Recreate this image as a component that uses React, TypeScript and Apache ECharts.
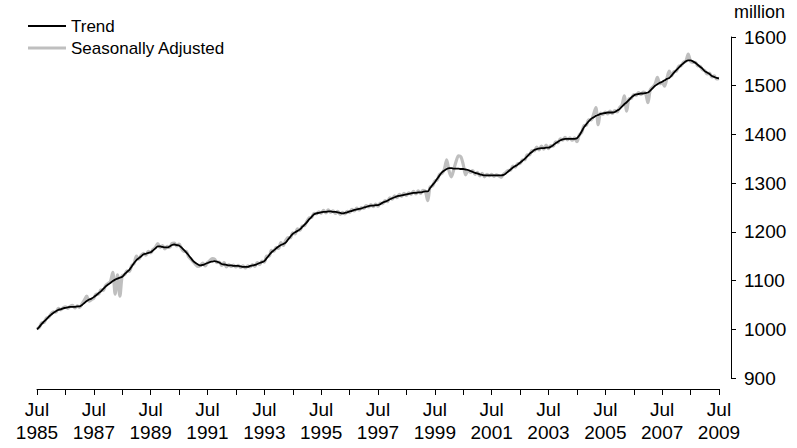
import React, { useEffect, useRef } from "react";
import * as echarts from "echarts";

// Months since Jul 1985 (index), monthly values in millions
const trend: number[] = [
  1000, 1005, 1011, 1016, 1021, 1026, 1030, 1034, 1037, 1040, 1041, 1043,
  1044, 1045, 1046, 1046, 1046, 1047, 1047, 1050, 1054, 1058, 1061, 1063,
  1066, 1070, 1074, 1078, 1083, 1088, 1092, 1095, 1099, 1102, 1104, 1106,
  1108, 1113, 1118, 1122, 1129, 1136, 1142, 1146, 1150, 1154, 1155, 1157,
  1158, 1162, 1166, 1170, 1170, 1169, 1168, 1168, 1170, 1173, 1174, 1173,
  1172, 1168, 1163, 1158, 1152, 1146, 1140, 1136, 1133, 1131, 1132, 1134,
  1136, 1138, 1139, 1140, 1139, 1137, 1134, 1133, 1132, 1131, 1131, 1130,
  1130, 1130, 1129, 1128, 1128, 1128, 1130, 1131, 1132, 1134, 1136, 1138,
  1140, 1146, 1152, 1158, 1162, 1166, 1170, 1173, 1175, 1178, 1184, 1190,
  1196, 1199, 1202, 1205, 1210, 1215, 1220, 1226, 1231, 1236, 1238, 1239,
  1240, 1241, 1241, 1242, 1242, 1241, 1241, 1240, 1239, 1238, 1239, 1240,
  1242, 1243, 1245, 1246, 1247, 1248, 1250, 1251, 1253, 1254, 1254, 1255,
  1255, 1257, 1260, 1262, 1264, 1267, 1269, 1271, 1273, 1274, 1275, 1276,
  1277, 1278, 1279, 1280, 1280, 1281, 1281, 1282, 1283, 1283, 1290, 1296,
  1302, 1309, 1316, 1322, 1326, 1329, 1331, 1331, 1330, 1330, 1330, 1329,
  1329, 1328, 1327, 1325, 1323, 1321, 1320, 1318, 1317, 1316, 1316, 1316,
  1316, 1316, 1316, 1316, 1316, 1317, 1320, 1324, 1328, 1332, 1335, 1338,
  1342, 1346, 1350, 1355, 1360, 1364, 1368, 1370, 1371, 1372, 1372, 1373,
  1373, 1375, 1378, 1382, 1385, 1388, 1390, 1391, 1391, 1391, 1391, 1391,
  1392, 1398, 1406, 1415, 1421, 1427, 1432, 1435, 1438, 1440, 1442, 1443,
  1444, 1445, 1445, 1445, 1446, 1449, 1452, 1457, 1462, 1466, 1471, 1476,
  1480, 1482, 1483, 1484, 1484, 1485, 1486, 1490, 1495, 1500, 1503, 1506,
  1508, 1511, 1514, 1516, 1521, 1527, 1532, 1537, 1542, 1546, 1550, 1552,
  1552, 1550, 1547, 1543, 1539, 1535, 1530, 1527, 1524, 1520, 1518, 1516,
  1515,
];

const seasonallyAdjusted: number[] = [
  1001, 1004, 1013, 1014, 1023, 1025, 1032, 1036, 1035, 1043, 1040, 1044,
  1046, 1043, 1047, 1049, 1044, 1048, 1045, 1052, 1060, 1068, 1058, 1061,
  1064, 1072, 1072, 1081, 1080, 1090, 1094, 1098, 1117, 1072, 1112, 1068,
  1110, 1112, 1120, 1119, 1131, 1135, 1150, 1144, 1152, 1156, 1152, 1160,
  1157, 1164, 1168, 1176, 1168, 1172, 1165, 1170, 1168, 1176, 1177, 1171,
  1175, 1166, 1160, 1160, 1149, 1144, 1138, 1133, 1129, 1131, 1136, 1130,
  1137, 1141, 1145, 1144, 1137, 1138, 1131, 1137, 1128, 1133, 1129, 1132,
  1128, 1131, 1127, 1130, 1126, 1130, 1128, 1133, 1129, 1137, 1133, 1140,
  1138, 1150, 1150, 1162, 1160, 1168, 1166, 1178, 1172, 1182, 1188, 1188,
  1198, 1196, 1206, 1203, 1212, 1213, 1222, 1229, 1230, 1238, 1237, 1241,
  1238, 1244, 1239, 1245, 1240, 1243, 1238, 1242, 1236, 1240, 1237, 1242,
  1240, 1246, 1243, 1249, 1245, 1250, 1248, 1254, 1251, 1256, 1252, 1257,
  1253, 1259, 1258, 1264, 1262, 1270, 1267, 1274, 1270, 1277, 1273, 1279,
  1275, 1280, 1277, 1283, 1278, 1284, 1279, 1285, 1283, 1264, 1292, 1294,
  1304, 1307, 1318, 1320, 1328, 1348, 1325, 1313, 1328, 1345, 1356, 1354,
  1338, 1317, 1325, 1322, 1326, 1318, 1322, 1315, 1320, 1313, 1318, 1315,
  1318, 1314, 1317, 1315, 1312, 1318, 1322, 1326, 1327, 1335, 1333, 1340,
  1340, 1348, 1348, 1358, 1358, 1367, 1366, 1374, 1368, 1376, 1370, 1378,
  1371, 1377, 1376, 1385, 1383, 1391, 1388, 1394, 1389, 1393, 1388, 1393,
  1385, 1399, 1404, 1418, 1419, 1430, 1430, 1441, 1455, 1420, 1444, 1441,
  1446, 1442, 1448, 1443, 1449, 1446, 1455, 1460, 1479, 1448, 1473, 1474,
  1482, 1480, 1486, 1482, 1487, 1484, 1465, 1492, 1497, 1503, 1517, 1504,
  1506, 1499, 1515, 1530, 1520, 1529, 1530, 1540, 1541, 1548, 1550, 1565,
  1550, 1548, 1548, 1541, 1540, 1533, 1531, 1524, 1526, 1518, 1520, 1514,
  1515,
];

const startYear = 1985;
const seriesNames = ["Trend", "Seasonally Adjusted"];
const yTicks = { min: 900, max: 1600, step: 100 };
const unitLabel = "million";

const FONT = "'Liberation Sans', Arial, sans-serif";
const TREND_COLOR = "#000000";
const SA_COLOR = "#bfbfbf";
const TREND_WIDTH = 1.8;
const SA_WIDTH = 3.2;

export default function App() {
  const ref = useRef<HTMLDivElement>(null);

  useEffect(() => {
    document.body.style.margin = "0";
    if (!ref.current) return;
    const chart = echarts.init(ref.current, undefined, { renderer: "svg" });
    const lastMonth = trend.length - 1;
    const legendRows = [
      { name: seriesNames[0], color: TREND_COLOR, width: TREND_WIDTH, y: 26 },
      { name: seriesNames[1], color: SA_COLOR, width: SA_WIDTH, y: 48 },
    ];
    const legendGraphics: any[] = [];
    legendRows.forEach((r) => {
      legendGraphics.push({
        type: "line",
        shape: { x1: 28, y1: r.y, x2: 66, y2: r.y },
        style: { stroke: r.color, lineWidth: r.width },
      });
      legendGraphics.push({
        type: "text",
        x: 71,
        y: r.y,
        style: {
          text: r.name,
          fontSize: 17,
          fontFamily: FONT,
          fill: "#000",
          verticalAlign: "middle",
          align: "left",
        },
      });
    });
    chart.setOption({
      animation: false,
      backgroundColor: "#ffffff",
      textStyle: { fontFamily: FONT },
      grid: { left: 37, right: 78, top: 37, bottom: 70, containLabel: false },
      legend: { show: false },
      graphic: [
        ...legendGraphics,
        {
          type: "text",
          left: 734,
          top: 3,
          style: { text: unitLabel, fontSize: 18, fontFamily: FONT, fill: "#000" },
        },
      ],
      xAxis: {
        type: "value",
        min: 0,
        max: lastMonth,
        interval: 12,
        offset: 11,
        axisLine: { show: true, onZero: false, lineStyle: { color: "#000", width: 1 } },
        axisTick: { show: true, length: 6, lineStyle: { color: "#000" } },
        splitLine: { show: false },
        axisLabel: {
          margin: 9,
          fontSize: 19,
          lineHeight: 23,
          color: "#000",
          fontFamily: FONT,
          formatter: (v: number) => {
            const y = v / 12;
            return y % 2 === 0 ? `Jul\n${startYear + y}` : "";
          },
        },
      },
      yAxis: {
        type: "value",
        position: "right",
        min: yTicks.min,
        max: yTicks.max,
        interval: yTicks.step,
        offset: 12,
        axisLine: { show: true, onZero: false, lineStyle: { color: "#000", width: 1 } },
        axisTick: { show: true, length: 5, lineStyle: { color: "#000" } },
        splitLine: { show: false },
        axisLabel: {
          margin: 13,
          fontSize: 19,
          color: "#000",
          fontFamily: FONT,
          formatter: (v: number) => String(v),
        },
      },
      series: [
        {
          name: seriesNames[1],
          type: "line",
          data: seasonallyAdjusted.map((v, i) => [i, v]),
          symbol: "none",
          showSymbol: false,
          smooth: 0.3,
          lineStyle: { color: SA_COLOR, width: SA_WIDTH },
          itemStyle: { color: SA_COLOR },
          z: 1,
        },
        {
          name: seriesNames[0],
          type: "line",
          data: trend.map((v, i) => [i, v]),
          symbol: "none",
          showSymbol: false,
          smooth: 0.3,
          lineStyle: { color: TREND_COLOR, width: TREND_WIDTH },
          itemStyle: { color: TREND_COLOR },
          z: 2,
        },
      ],
    });
    return () => chart.dispose();
  }, []);

  return (
    <div
      ref={ref}
      style={{ position: "fixed", left: 0, top: 0, width: 797, height: 448 }}
    />
  );
}
